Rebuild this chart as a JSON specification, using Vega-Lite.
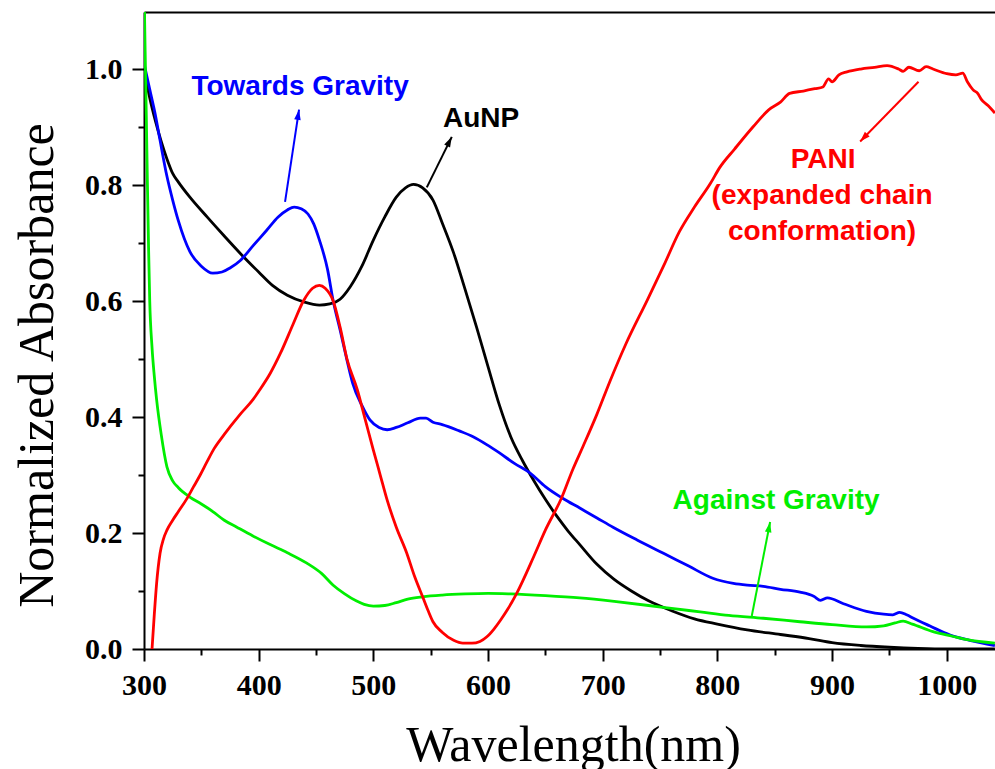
{
  "$schema": "https://vega.github.io/schema/vega-lite/v6.json",
  "autosize": {"type": "none"},
  "width": 851,
  "height": 637,
  "padding": {"left": 144, "top": 12, "right": 0, "bottom": 120},
  "background": "white",
  "config": {
    "view": {"stroke": null},
    "axis": {
      "grid": false,
      "domainColor": "black",
      "domainWidth": 2,
      "tickColor": "black",
      "tickWidth": 2,
      "labelFont": "Liberation Serif",
      "labelFontWeight": "bold",
      "labelFontSize": 30,
      "labelColor": "black",
      "labelOverlap": false,
      "labelBound": false,
      "labelFlush": false,
      "titleFont": "Liberation Serif",
      "titleFontWeight": "normal",
      "titleFontSize": 50,
      "titleColor": "black"
    }
  },
  "datasets": {
    "curves": [
      {"s": "AuNP", "w": 300, "a": 1.0},
      {"s": "AuNP", "w": 305, "a": 0.95},
      {"s": "AuNP", "w": 310, "a": 0.91},
      {"s": "AuNP", "w": 315, "a": 0.875},
      {"s": "AuNP", "w": 320, "a": 0.845},
      {"s": "AuNP", "w": 325, "a": 0.82},
      {"s": "AuNP", "w": 330, "a": 0.805},
      {"s": "AuNP", "w": 340, "a": 0.779},
      {"s": "AuNP", "w": 355, "a": 0.745},
      {"s": "AuNP", "w": 370, "a": 0.712},
      {"s": "AuNP", "w": 384, "a": 0.682},
      {"s": "AuNP", "w": 400, "a": 0.65},
      {"s": "AuNP", "w": 412, "a": 0.627},
      {"s": "AuNP", "w": 425, "a": 0.61},
      {"s": "AuNP", "w": 440, "a": 0.598},
      {"s": "AuNP", "w": 453, "a": 0.593},
      {"s": "AuNP", "w": 462, "a": 0.595},
      {"s": "AuNP", "w": 471, "a": 0.603},
      {"s": "AuNP", "w": 480, "a": 0.625},
      {"s": "AuNP", "w": 490, "a": 0.66},
      {"s": "AuNP", "w": 500, "a": 0.705},
      {"s": "AuNP", "w": 510, "a": 0.745},
      {"s": "AuNP", "w": 520, "a": 0.779},
      {"s": "AuNP", "w": 528, "a": 0.795},
      {"s": "AuNP", "w": 535, "a": 0.801},
      {"s": "AuNP", "w": 543, "a": 0.795},
      {"s": "AuNP", "w": 552, "a": 0.774},
      {"s": "AuNP", "w": 560, "a": 0.735},
      {"s": "AuNP", "w": 570, "a": 0.683},
      {"s": "AuNP", "w": 580, "a": 0.62},
      {"s": "AuNP", "w": 590, "a": 0.555},
      {"s": "AuNP", "w": 600, "a": 0.487},
      {"s": "AuNP", "w": 610, "a": 0.42},
      {"s": "AuNP", "w": 620, "a": 0.365},
      {"s": "AuNP", "w": 630, "a": 0.325},
      {"s": "AuNP", "w": 640, "a": 0.29},
      {"s": "AuNP", "w": 650, "a": 0.258},
      {"s": "AuNP", "w": 660, "a": 0.229},
      {"s": "AuNP", "w": 670, "a": 0.203},
      {"s": "AuNP", "w": 680, "a": 0.18},
      {"s": "AuNP", "w": 695, "a": 0.146},
      {"s": "AuNP", "w": 710, "a": 0.12},
      {"s": "AuNP", "w": 725, "a": 0.1},
      {"s": "AuNP", "w": 740, "a": 0.083},
      {"s": "AuNP", "w": 760, "a": 0.066},
      {"s": "AuNP", "w": 780, "a": 0.052},
      {"s": "AuNP", "w": 800, "a": 0.043},
      {"s": "AuNP", "w": 826, "a": 0.033},
      {"s": "AuNP", "w": 855, "a": 0.025},
      {"s": "AuNP", "w": 880, "a": 0.018},
      {"s": "AuNP", "w": 900, "a": 0.011},
      {"s": "AuNP", "w": 925, "a": 0.006},
      {"s": "AuNP", "w": 950, "a": 0.003},
      {"s": "AuNP", "w": 975, "a": 0.001},
      {"s": "AuNP", "w": 1000, "a": 0.0},
      {"s": "AuNP", "w": 1042, "a": 0.0},

      {"s": "Towards Gravity", "w": 300, "a": 1.01},
      {"s": "Towards Gravity", "w": 305, "a": 0.965},
      {"s": "Towards Gravity", "w": 310, "a": 0.92},
      {"s": "Towards Gravity", "w": 314, "a": 0.877},
      {"s": "Towards Gravity", "w": 320, "a": 0.815},
      {"s": "Towards Gravity", "w": 325, "a": 0.774},
      {"s": "Towards Gravity", "w": 330, "a": 0.738},
      {"s": "Towards Gravity", "w": 340, "a": 0.685},
      {"s": "Towards Gravity", "w": 350, "a": 0.66},
      {"s": "Towards Gravity", "w": 360, "a": 0.648},
      {"s": "Towards Gravity", "w": 368, "a": 0.65},
      {"s": "Towards Gravity", "w": 375, "a": 0.657},
      {"s": "Towards Gravity", "w": 384, "a": 0.67},
      {"s": "Towards Gravity", "w": 395, "a": 0.695},
      {"s": "Towards Gravity", "w": 407, "a": 0.722},
      {"s": "Towards Gravity", "w": 417, "a": 0.745},
      {"s": "Towards Gravity", "w": 425, "a": 0.757},
      {"s": "Towards Gravity", "w": 431, "a": 0.762},
      {"s": "Towards Gravity", "w": 437, "a": 0.759},
      {"s": "Towards Gravity", "w": 443, "a": 0.75},
      {"s": "Towards Gravity", "w": 448, "a": 0.733},
      {"s": "Towards Gravity", "w": 453, "a": 0.705},
      {"s": "Towards Gravity", "w": 460, "a": 0.655},
      {"s": "Towards Gravity", "w": 465, "a": 0.6},
      {"s": "Towards Gravity", "w": 471, "a": 0.55},
      {"s": "Towards Gravity", "w": 477, "a": 0.498},
      {"s": "Towards Gravity", "w": 482, "a": 0.458},
      {"s": "Towards Gravity", "w": 490, "a": 0.42},
      {"s": "Towards Gravity", "w": 497, "a": 0.395},
      {"s": "Towards Gravity", "w": 505, "a": 0.382},
      {"s": "Towards Gravity", "w": 512, "a": 0.378},
      {"s": "Towards Gravity", "w": 520, "a": 0.382},
      {"s": "Towards Gravity", "w": 530, "a": 0.39},
      {"s": "Towards Gravity", "w": 541, "a": 0.398},
      {"s": "Towards Gravity", "w": 546, "a": 0.398},
      {"s": "Towards Gravity", "w": 552, "a": 0.391},
      {"s": "Towards Gravity", "w": 560, "a": 0.387},
      {"s": "Towards Gravity", "w": 575, "a": 0.376},
      {"s": "Towards Gravity", "w": 587, "a": 0.366},
      {"s": "Towards Gravity", "w": 600, "a": 0.351},
      {"s": "Towards Gravity", "w": 610, "a": 0.338},
      {"s": "Towards Gravity", "w": 623, "a": 0.32},
      {"s": "Towards Gravity", "w": 637, "a": 0.303},
      {"s": "Towards Gravity", "w": 650, "a": 0.28},
      {"s": "Towards Gravity", "w": 665, "a": 0.26},
      {"s": "Towards Gravity", "w": 680, "a": 0.243},
      {"s": "Towards Gravity", "w": 695, "a": 0.226},
      {"s": "Towards Gravity", "w": 709, "a": 0.21},
      {"s": "Towards Gravity", "w": 730, "a": 0.188},
      {"s": "Towards Gravity", "w": 753, "a": 0.165},
      {"s": "Towards Gravity", "w": 775, "a": 0.143},
      {"s": "Towards Gravity", "w": 796, "a": 0.122},
      {"s": "Towards Gravity", "w": 814, "a": 0.113},
      {"s": "Towards Gravity", "w": 826, "a": 0.11},
      {"s": "Towards Gravity", "w": 840, "a": 0.108},
      {"s": "Towards Gravity", "w": 855, "a": 0.103},
      {"s": "Towards Gravity", "w": 872, "a": 0.098},
      {"s": "Towards Gravity", "w": 884, "a": 0.091},
      {"s": "Towards Gravity", "w": 890, "a": 0.084},
      {"s": "Towards Gravity", "w": 896, "a": 0.088},
      {"s": "Towards Gravity", "w": 910, "a": 0.078},
      {"s": "Towards Gravity", "w": 930, "a": 0.065},
      {"s": "Towards Gravity", "w": 945, "a": 0.06},
      {"s": "Towards Gravity", "w": 953, "a": 0.059},
      {"s": "Towards Gravity", "w": 959, "a": 0.063},
      {"s": "Towards Gravity", "w": 965, "a": 0.059},
      {"s": "Towards Gravity", "w": 971, "a": 0.053},
      {"s": "Towards Gravity", "w": 985, "a": 0.04},
      {"s": "Towards Gravity", "w": 1003, "a": 0.024},
      {"s": "Towards Gravity", "w": 1020, "a": 0.015},
      {"s": "Towards Gravity", "w": 1042, "a": 0.006},

      {"s": "Against Gravity", "w": 300, "a": 1.15},
      {"s": "Against Gravity", "w": 301, "a": 1.03},
      {"s": "Against Gravity", "w": 302, "a": 0.92},
      {"s": "Against Gravity", "w": 303, "a": 0.8},
      {"s": "Against Gravity", "w": 304, "a": 0.69},
      {"s": "Against Gravity", "w": 305, "a": 0.6},
      {"s": "Against Gravity", "w": 307, "a": 0.52},
      {"s": "Against Gravity", "w": 309, "a": 0.47},
      {"s": "Against Gravity", "w": 311, "a": 0.43},
      {"s": "Against Gravity", "w": 315, "a": 0.37},
      {"s": "Against Gravity", "w": 320, "a": 0.314},
      {"s": "Against Gravity", "w": 325, "a": 0.29},
      {"s": "Against Gravity", "w": 330, "a": 0.278},
      {"s": "Against Gravity", "w": 340, "a": 0.262},
      {"s": "Against Gravity", "w": 350, "a": 0.25},
      {"s": "Against Gravity", "w": 360, "a": 0.237},
      {"s": "Against Gravity", "w": 370, "a": 0.222},
      {"s": "Against Gravity", "w": 381, "a": 0.21},
      {"s": "Against Gravity", "w": 395, "a": 0.195},
      {"s": "Against Gravity", "w": 410, "a": 0.18},
      {"s": "Against Gravity", "w": 425, "a": 0.166},
      {"s": "Against Gravity", "w": 442, "a": 0.148},
      {"s": "Against Gravity", "w": 455, "a": 0.13},
      {"s": "Against Gravity", "w": 465, "a": 0.11},
      {"s": "Against Gravity", "w": 475, "a": 0.095},
      {"s": "Against Gravity", "w": 485, "a": 0.083},
      {"s": "Against Gravity", "w": 492, "a": 0.077},
      {"s": "Against Gravity", "w": 500, "a": 0.074},
      {"s": "Against Gravity", "w": 510, "a": 0.075},
      {"s": "Against Gravity", "w": 520, "a": 0.08},
      {"s": "Against Gravity", "w": 530, "a": 0.086},
      {"s": "Against Gravity", "w": 543, "a": 0.09},
      {"s": "Against Gravity", "w": 560, "a": 0.093},
      {"s": "Against Gravity", "w": 580, "a": 0.095},
      {"s": "Against Gravity", "w": 600, "a": 0.096},
      {"s": "Against Gravity", "w": 620, "a": 0.095},
      {"s": "Against Gravity", "w": 650, "a": 0.092},
      {"s": "Against Gravity", "w": 680, "a": 0.088},
      {"s": "Against Gravity", "w": 710, "a": 0.082},
      {"s": "Against Gravity", "w": 740, "a": 0.075},
      {"s": "Against Gravity", "w": 760, "a": 0.07},
      {"s": "Against Gravity", "w": 785, "a": 0.064},
      {"s": "Against Gravity", "w": 810, "a": 0.058},
      {"s": "Against Gravity", "w": 840, "a": 0.053},
      {"s": "Against Gravity", "w": 872, "a": 0.047},
      {"s": "Against Gravity", "w": 900, "a": 0.042},
      {"s": "Against Gravity", "w": 930, "a": 0.038},
      {"s": "Against Gravity", "w": 945, "a": 0.04},
      {"s": "Against Gravity", "w": 955, "a": 0.045},
      {"s": "Against Gravity", "w": 962, "a": 0.048},
      {"s": "Against Gravity", "w": 970, "a": 0.043},
      {"s": "Against Gravity", "w": 988, "a": 0.03},
      {"s": "Against Gravity", "w": 1005, "a": 0.022},
      {"s": "Against Gravity", "w": 1018, "a": 0.016},
      {"s": "Against Gravity", "w": 1042, "a": 0.01},

      {"s": "PANI", "w": 307, "a": 0.0},
      {"s": "PANI", "w": 309, "a": 0.06},
      {"s": "PANI", "w": 311, "a": 0.113},
      {"s": "PANI", "w": 314, "a": 0.165},
      {"s": "PANI", "w": 317, "a": 0.19},
      {"s": "PANI", "w": 320, "a": 0.205},
      {"s": "PANI", "w": 325, "a": 0.222},
      {"s": "PANI", "w": 330, "a": 0.237},
      {"s": "PANI", "w": 337, "a": 0.258},
      {"s": "PANI", "w": 343, "a": 0.279},
      {"s": "PANI", "w": 349, "a": 0.3},
      {"s": "PANI", "w": 355, "a": 0.323},
      {"s": "PANI", "w": 361, "a": 0.345},
      {"s": "PANI", "w": 370, "a": 0.37},
      {"s": "PANI", "w": 384, "a": 0.405},
      {"s": "PANI", "w": 395, "a": 0.43},
      {"s": "PANI", "w": 401, "a": 0.447},
      {"s": "PANI", "w": 410, "a": 0.475},
      {"s": "PANI", "w": 419, "a": 0.51},
      {"s": "PANI", "w": 430, "a": 0.56},
      {"s": "PANI", "w": 439, "a": 0.6},
      {"s": "PANI", "w": 447, "a": 0.622},
      {"s": "PANI", "w": 453, "a": 0.627},
      {"s": "PANI", "w": 458, "a": 0.622},
      {"s": "PANI", "w": 465, "a": 0.6},
      {"s": "PANI", "w": 471, "a": 0.555},
      {"s": "PANI", "w": 477, "a": 0.5},
      {"s": "PANI", "w": 486, "a": 0.447},
      {"s": "PANI", "w": 493, "a": 0.395},
      {"s": "PANI", "w": 500, "a": 0.343},
      {"s": "PANI", "w": 506, "a": 0.3},
      {"s": "PANI", "w": 512, "a": 0.257},
      {"s": "PANI", "w": 520, "a": 0.21},
      {"s": "PANI", "w": 529, "a": 0.166},
      {"s": "PANI", "w": 536, "a": 0.125},
      {"s": "PANI", "w": 543, "a": 0.09},
      {"s": "PANI", "w": 548, "a": 0.065},
      {"s": "PANI", "w": 552, "a": 0.047},
      {"s": "PANI", "w": 560, "a": 0.029},
      {"s": "PANI", "w": 570, "a": 0.015},
      {"s": "PANI", "w": 578, "a": 0.01},
      {"s": "PANI", "w": 586, "a": 0.01},
      {"s": "PANI", "w": 593, "a": 0.013},
      {"s": "PANI", "w": 599, "a": 0.021},
      {"s": "PANI", "w": 605, "a": 0.034},
      {"s": "PANI", "w": 611, "a": 0.05},
      {"s": "PANI", "w": 617, "a": 0.068},
      {"s": "PANI", "w": 625, "a": 0.096},
      {"s": "PANI", "w": 640, "a": 0.16},
      {"s": "PANI", "w": 650, "a": 0.205},
      {"s": "PANI", "w": 664, "a": 0.26},
      {"s": "PANI", "w": 674, "a": 0.31},
      {"s": "PANI", "w": 683, "a": 0.35},
      {"s": "PANI", "w": 695, "a": 0.405},
      {"s": "PANI", "w": 706, "a": 0.46},
      {"s": "PANI", "w": 720, "a": 0.525},
      {"s": "PANI", "w": 739, "a": 0.602},
      {"s": "PANI", "w": 753, "a": 0.66},
      {"s": "PANI", "w": 767, "a": 0.72},
      {"s": "PANI", "w": 780, "a": 0.762},
      {"s": "PANI", "w": 794, "a": 0.803},
      {"s": "PANI", "w": 802, "a": 0.83},
      {"s": "PANI", "w": 815, "a": 0.862},
      {"s": "PANI", "w": 831, "a": 0.9},
      {"s": "PANI", "w": 845, "a": 0.93},
      {"s": "PANI", "w": 855, "a": 0.943},
      {"s": "PANI", "w": 863, "a": 0.958},
      {"s": "PANI", "w": 875, "a": 0.962},
      {"s": "PANI", "w": 885, "a": 0.966},
      {"s": "PANI", "w": 892, "a": 0.969},
      {"s": "PANI", "w": 897, "a": 0.983},
      {"s": "PANI", "w": 900, "a": 0.978},
      {"s": "PANI", "w": 906, "a": 0.99},
      {"s": "PANI", "w": 913, "a": 0.995},
      {"s": "PANI", "w": 925, "a": 1.0},
      {"s": "PANI", "w": 937, "a": 1.003},
      {"s": "PANI", "w": 948, "a": 1.006},
      {"s": "PANI", "w": 958, "a": 1.0},
      {"s": "PANI", "w": 962, "a": 0.996},
      {"s": "PANI", "w": 967, "a": 1.003},
      {"s": "PANI", "w": 976, "a": 0.997},
      {"s": "PANI", "w": 982, "a": 1.004},
      {"s": "PANI", "w": 988, "a": 1.0},
      {"s": "PANI", "w": 1000, "a": 0.992},
      {"s": "PANI", "w": 1008, "a": 0.99},
      {"s": "PANI", "w": 1014, "a": 0.993},
      {"s": "PANI", "w": 1018, "a": 0.978},
      {"s": "PANI", "w": 1023, "a": 0.964},
      {"s": "PANI", "w": 1027, "a": 0.958},
      {"s": "PANI", "w": 1030, "a": 0.948},
      {"s": "PANI", "w": 1036, "a": 0.937},
      {"s": "PANI", "w": 1042, "a": 0.924}
    ],
    "arrows": [
      {"s": "Towards Gravity", "w": 423, "a": 0.771, "w2": 435.2, "a2": 0.93},
      {"s": "AuNP", "w": 546.6, "a": 0.796, "w2": 568.4, "a2": 0.883},
      {"s": "PANI", "w": 975.4, "a": 0.978, "w2": 924.5, "a2": 0.875},
      {"s": "Against Gravity", "w": 830, "a": 0.057, "w2": 846, "a2": 0.219}
    ],
    "labels": [
      {"s": "Towards Gravity", "w": 436.1, "a": 0.955, "t": "Towards Gravity"},
      {"s": "AuNP", "w": 593.9, "a": 0.9, "t": "AuNP"},
      {"s": "PANI", "w": 892.2, "a": 0.829, "t": "PANI"},
      {"s": "PANI", "w": 891.3, "a": 0.767, "t": "(expanded chain"},
      {"s": "PANI", "w": 891.3, "a": 0.705, "t": "conformation)"},
      {"s": "Against Gravity", "w": 851.2, "a": 0.241, "t": "Against Gravity"}
    ]
  },
  "resolve": {"axis": {"x": "independent", "y": "independent"}},
  "layer": [
    {
      "data": {"name": "curves"},
      "mark": {"type": "line", "strokeWidth": 2.8, "clip": true, "interpolate": "monotone"},
      "encoding": {
        "x": {
          "field": "w", "type": "quantitative",
          "scale": {"domain": [300, 1042.1], "nice": false, "zero": false},
          "axis": {
            "orient": "bottom",
            "title": "Wavelength(nm)",
            "values": [300, 350, 400, 450, 500, 550, 600, 650, 700, 750, 800, 850, 900, 950, 1000],
            "format": "d",
            "labelExpr": "datum.value % 100 === 0 ? datum.label : ''",
            "tickSize": {"condition": {"test": "datum.value % 100 === 0", "value": 12}, "value": 6},
            "labelPadding": 9,
            "titleX": 429,
            "titleY": 111,
            "titleAlign": "center",
            "titleBaseline": "alphabetic"
          }
        },
        "y": {
          "field": "a", "type": "quantitative",
          "scale": {"domain": [0, 1.0983], "nice": false, "zero": false},
          "axis": {
            "orient": "left",
            "title": "Normalized Absorbance",
            "values": [0, 0.1, 0.2, 0.3, 0.4, 0.5, 0.6, 0.7, 0.8, 0.9, 1.0],
            "labelExpr": "round(datum.value * 10) % 2 === 0 ? format(datum.value, '.1f') : ''",
            "tickSize": {"condition": {"test": "round(datum.value * 10) % 2 === 0", "value": 12}, "value": 6},
            "labelPadding": 10,
            "titleX": -92,
            "titleY": 353,
            "titleAngle": -90,
            "titleAlign": "center",
            "titleBaseline": "alphabetic"
          }
        },
        "color": {
          "field": "s", "type": "nominal",
          "scale": {"domain": ["AuNP", "Towards Gravity", "Against Gravity", "PANI"], "range": ["#000000", "#0000FF", "#00EE00", "#FF0000"]},
          "legend": null
        },
        "order": {"field": "w", "type": "quantitative"}
      }
    },
    {
      "data": {"name": "arrows"},
      "mark": {"type": "rule", "strokeWidth": 2},
      "encoding": {
        "x": {
          "field": "w", "type": "quantitative",
          "axis": {"orient": "top", "title": null, "labels": false, "ticks": false, "domain": true}
        },
        "y": {"field": "a", "type": "quantitative", "axis": null},
        "x2": {"field": "w2"},
        "y2": {"field": "a2"},
        "color": {"field": "s", "type": "nominal", "legend": null}
      }
    },
    {
      "data": {"name": "arrows"},
      "transform": [{"filter": "datum.s === 'Towards Gravity'"}],
      "mark": {"type": "point", "shape": "M0,0L-0.32,1L0.32,1Z", "filled": true, "opacity": 1, "size": 420, "angle": 9},
      "encoding": {
        "x": {"field": "w2", "type": "quantitative", "axis": null},
        "y": {"field": "a2", "type": "quantitative", "axis": null},
        "color": {"field": "s", "type": "nominal", "legend": null}
      }
    },
    {
      "data": {"name": "arrows"},
      "transform": [{"filter": "datum.s === 'AuNP'"}],
      "mark": {"type": "point", "shape": "M0,0L-0.32,1L0.32,1Z", "filled": true, "opacity": 1, "size": 420, "angle": 27},
      "encoding": {
        "x": {"field": "w2", "type": "quantitative", "axis": null},
        "y": {"field": "a2", "type": "quantitative", "axis": null},
        "color": {"field": "s", "type": "nominal", "legend": null}
      }
    },
    {
      "data": {"name": "arrows"},
      "transform": [{"filter": "datum.s === 'PANI'"}],
      "mark": {"type": "point", "shape": "M0,0L-0.32,1L0.32,1Z", "filled": true, "opacity": 1, "size": 420, "angle": 224},
      "encoding": {
        "x": {"field": "w2", "type": "quantitative", "axis": null},
        "y": {"field": "a2", "type": "quantitative", "axis": null},
        "color": {"field": "s", "type": "nominal", "legend": null}
      }
    },
    {
      "data": {"name": "arrows"},
      "transform": [{"filter": "datum.s === 'Against Gravity'"}],
      "mark": {"type": "point", "shape": "M0,0L-0.32,1L0.32,1Z", "filled": true, "opacity": 1, "size": 420, "angle": 11},
      "encoding": {
        "x": {"field": "w2", "type": "quantitative", "axis": null},
        "y": {"field": "a2", "type": "quantitative", "axis": null},
        "color": {"field": "s", "type": "nominal", "legend": null}
      }
    },
    {
      "data": {"name": "labels"},
      "mark": {"type": "text", "font": "Liberation Sans", "fontSize": 28, "fontWeight": "bold", "align": "center", "baseline": "alphabetic"},
      "encoding": {
        "x": {"field": "w", "type": "quantitative", "axis": null},
        "y": {"field": "a", "type": "quantitative", "axis": null},
        "text": {"field": "t"},
        "color": {"field": "s", "type": "nominal", "legend": null}
      }
    }
  ]
}
